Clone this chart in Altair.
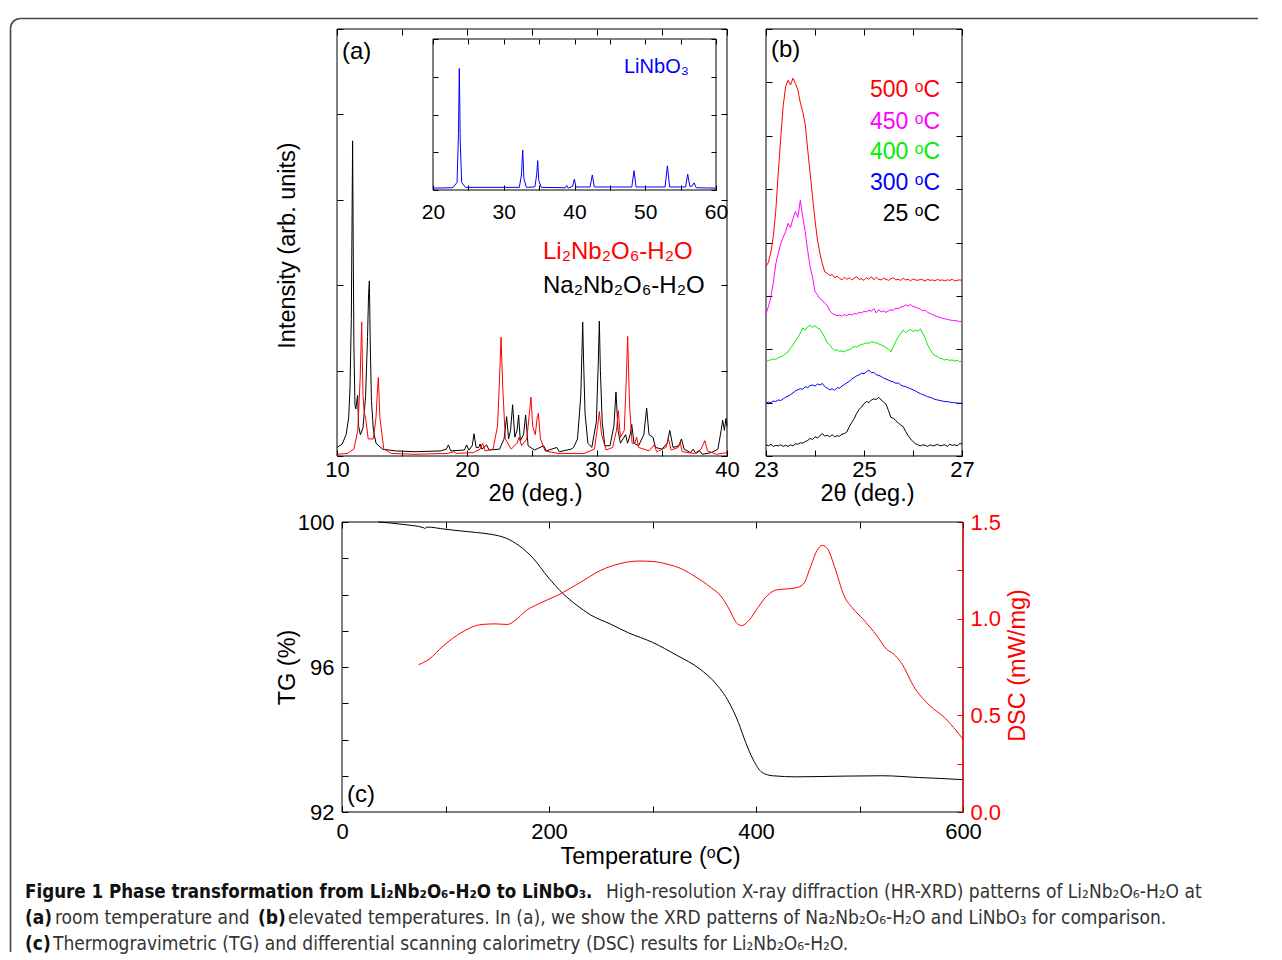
import altair as alt
import pandas as pd

# ---------------- data: panel (a) main XRD patterns (2theta, intensity) ----------------
na_points = [
    (10.0, 0.10), (10.4, 0.14), (10.7, 0.25), (10.9, 0.45), (11.0, 0.80), (11.1, 1.60),
    (11.15, 2.60), (11.2, 3.69), (11.25, 2.40), (11.3, 1.30), (11.38, 0.60), (11.45, 0.55),
    (11.52, 0.64), (11.59, 0.71), (11.66, 0.35), (11.8, 0.25), (12.0, 0.33), (12.2, 0.70),
    (12.35, 1.40), (12.43, 1.90), (12.49, 2.05), (12.56, 1.30), (12.65, 0.65), (12.8, 0.30),
    (13.0, 0.15), (13.5, 0.08), (14.5, 0.06), (16.0, 0.05), (18.0, 0.06), (18.4, 0.08),
    (18.57, 0.13), (18.75, 0.06), (19.8, 0.07), (19.97, 0.13), (20.15, 0.07), (20.4, 0.12),
    (20.54, 0.26), (20.7, 0.10), (20.9, 0.10), (21.0, 0.14), (21.15, 0.08), (21.5, 0.13),
    (21.7, 0.07), (22.5, 0.08), (22.85, 0.20), (23.05, 0.46), (23.2, 0.20), (23.35, 0.30),
    (23.51, 0.60), (23.68, 0.22), (23.85, 0.30), (23.97, 0.48), (24.1, 0.18), (24.35, 0.25),
    (24.51, 0.48), (24.7, 0.12), (25.2, 0.07), (25.9, 0.12), (26.1, 0.06), (26.9, 0.10),
    (27.1, 0.05), (28.0, 0.08), (28.2, 0.10), (28.5, 0.20), (28.75, 0.70), (28.84, 1.20),
    (28.9, 1.57), (28.97, 1.10), (29.08, 0.50), (29.3, 0.15), (29.6, 0.10), (29.95, 0.40),
    (30.1, 1.10), (30.18, 1.58), (30.26, 1.00), (30.4, 0.40), (30.6, 0.12), (31.0, 0.12),
    (31.3, 0.35), (31.46, 0.75), (31.62, 0.30), (31.8, 0.15), (32.0, 0.20), (32.2, 0.25),
    (32.35, 0.15), (32.55, 0.25), (32.67, 0.37), (32.85, 0.15), (33.2, 0.12), (33.6, 0.25),
    (33.82, 0.56), (34.0, 0.25), (34.3, 0.22), (34.5, 0.10), (35.0, 0.08), (35.4, 0.15),
    (35.6, 0.30), (35.85, 0.10), (36.3, 0.12), (36.5, 0.20), (36.7, 0.08), (37.2, 0.04),
    (37.4, 0.08), (37.6, 0.03), (37.9, 0.06), (38.1, 0.02), (38.8, 0.04), (39.3, 0.08),
    (39.55, 0.30), (39.67, 0.42), (39.8, 0.30), (39.92, 0.44), (40.0, 0.35),
]
li_points = [
    (10.0, 0.02), (10.8, 0.03), (11.3, 0.08), (11.6, 0.30), (11.78, 0.90), (11.9, 1.57),
    (12.0, 0.70), (12.1, 0.50), (12.2, 0.45), (12.4, 0.20), (12.8, 0.20), (13.0, 0.45),
    (13.12, 0.80), (13.18, 0.92), (13.3, 0.45), (13.6, 0.08), (14.2, 0.03), (16.0, 0.02),
    (18.5, 0.03), (19.0, 0.05), (19.2, 0.03), (20.5, 0.04), (21.0, 0.08), (21.2, 0.15),
    (21.4, 0.06), (22.0, 0.08), (22.35, 0.35), (22.5, 0.90), (22.62, 1.39), (22.75, 0.80),
    (22.95, 0.20), (23.4, 0.08), (23.85, 0.15), (24.0, 0.22), (24.2, 0.12), (24.6, 0.20),
    (24.8, 0.50), (24.92, 0.69), (25.05, 0.35), (25.25, 0.25), (25.4, 0.45), (25.49, 0.50),
    (25.65, 0.20), (26.0, 0.06), (27.0, 0.03), (29.0, 0.03), (29.8, 0.08), (30.05, 0.35),
    (30.18, 0.52), (30.35, 0.25), (30.7, 0.07), (31.2, 0.10), (31.5, 0.30), (31.64, 0.53),
    (31.8, 0.22), (32.1, 0.30), (32.25, 0.90), (32.36, 1.40), (32.5, 0.60), (32.7, 0.15),
    (32.9, 0.15), (33.05, 0.22), (33.2, 0.10), (34.0, 0.06), (34.4, 0.13), (34.6, 0.05),
    (35.3, 0.10), (35.5, 0.20), (35.7, 0.07), (36.25, 0.10), (36.4, 0.16), (36.55, 0.05),
    (37.5, 0.03), (38.0, 0.08), (38.3, 0.18), (38.5, 0.06), (39.2, 0.02), (40.0, 0.04),
]
# inset: LiNbO3
linbo3_points = [
    (20.0, 0.05), (22.8, 0.06), (23.4, 0.20), (23.6, 1.50), (23.72, 3.22), (23.85, 1.30),
    (24.05, 0.20), (24.6, 0.07), (32.2, 0.07), (32.5, 0.40), (32.68, 1.06), (32.85, 0.30),
    (33.2, 0.07), (34.4, 0.08), (34.65, 0.40), (34.8, 0.78), (34.95, 0.25), (35.3, 0.07),
    (38.7, 0.06), (38.9, 0.12), (39.1, 0.05), (39.75, 0.10), (39.98, 0.29), (40.2, 0.08),
    (42.2, 0.08), (42.52, 0.40), (42.8, 0.08), (48.1, 0.08), (48.41, 0.51), (48.7, 0.08),
    (52.8, 0.08), (53.13, 0.64), (53.45, 0.08), (55.7, 0.08), (56.0, 0.42), (56.3, 0.10),
    (56.6, 0.10), (56.9, 0.19), (57.2, 0.06), (60.0, 0.05),
]

# ---------------- data: panel (b) ----------------
b_theta = [
    23.00, 23.05, 23.10, 23.15, 23.20, 23.25, 23.30, 23.35, 23.40, 23.45,
    23.50, 23.55, 23.60, 23.65, 23.70, 23.75, 23.80, 23.85, 23.90, 23.95,
    24.00, 24.05, 24.10, 24.15, 24.20, 24.25, 24.30, 24.35, 24.40, 24.45,
    24.50, 24.55, 24.60, 24.65, 24.70, 24.75, 24.80, 24.85, 24.90, 24.95,
    25.00, 25.05, 25.10, 25.15, 25.20, 25.25, 25.30, 25.35, 25.40, 25.45,
    25.50, 25.55, 25.60, 25.65, 25.70, 25.75, 25.80, 25.85, 25.90, 25.95,
    26.00, 26.05, 26.10, 26.15, 26.20, 26.25, 26.30, 26.35, 26.40, 26.45,
    26.50, 26.55, 26.60, 26.65, 26.70, 26.75, 26.80, 26.85, 26.90, 26.95,
    27.00,
]
b_500 = [
    3.55, 3.63, 3.82, 4.12, 4.60, 5.30, 5.95, 6.55, 6.92, 7.04,
    6.95, 7.08, 6.98, 6.86, 6.62, 6.45, 6.22, 5.75, 5.30, 4.85,
    4.42, 4.05, 3.80, 3.60, 3.45, 3.42, 3.38, 3.40, 3.34, 3.37,
    3.33, 3.30, 3.35, 3.31, 3.34, 3.30, 3.33, 3.36, 3.31, 3.32,
    3.29, 3.34, 3.31, 3.36, 3.30, 3.35, 3.31, 3.30, 3.33, 3.31,
    3.29, 3.32, 3.34, 3.30, 3.31, 3.29, 3.33, 3.30, 3.31, 3.28,
    3.32, 3.30, 3.29, 3.31, 3.30, 3.28, 3.31, 3.29, 3.30, 3.28,
    3.31, 3.29, 3.30, 3.28, 3.30, 3.29, 3.31, 3.28, 3.29, 3.30,
    3.29,
]
b_450 = [
    2.67, 2.80, 2.98, 3.25, 3.60, 3.80, 3.98, 4.10, 4.20, 4.36,
    4.28, 4.45, 4.58, 4.47, 4.79, 4.48, 4.20, 3.85, 3.55, 3.35,
    3.08, 3.02, 2.95, 2.92, 2.86, 2.82, 2.72, 2.67, 2.65, 2.63,
    2.64, 2.62, 2.65, 2.63, 2.66, 2.64, 2.67, 2.66, 2.69, 2.68,
    2.71, 2.70, 2.73, 2.71, 2.76, 2.68, 2.74, 2.70, 2.72, 2.69,
    2.72, 2.74, 2.73, 2.77, 2.76, 2.79, 2.80, 2.83, 2.81, 2.84,
    2.80, 2.79, 2.77, 2.75, 2.72, 2.73, 2.69, 2.67, 2.65, 2.63,
    2.61, 2.60, 2.58, 2.57, 2.56, 2.55, 2.54, 2.54, 2.53, 2.52,
    2.52,
]
b_400 = [
    1.77, 1.79, 1.80, 1.82, 1.81, 1.84, 1.86, 1.88, 1.92, 1.95,
    2.02, 2.08, 2.15, 2.22, 2.30, 2.40, 2.36, 2.42, 2.45, 2.41,
    2.44, 2.40, 2.38, 2.30, 2.22, 2.12, 2.08, 2.02, 1.98, 1.99,
    1.96, 1.97, 1.95, 1.98, 1.99, 2.02, 2.05, 2.04, 2.07, 2.09,
    2.10, 2.12, 2.11, 2.14, 2.13, 2.12, 2.10, 2.08, 2.06, 2.03,
    2.00, 1.95, 2.05, 2.15, 2.23, 2.30, 2.36, 2.31, 2.35, 2.37,
    2.33, 2.36, 2.34, 2.38, 2.30, 2.20, 2.08, 2.00, 1.92, 1.88,
    1.86, 1.83, 1.82, 1.80, 1.81, 1.79, 1.80, 1.78, 1.79, 1.77,
    1.77,
]
b_300 = [
    0.99, 1.01, 1.00, 1.03, 1.02, 1.05, 1.04, 1.07, 1.10, 1.12,
    1.15, 1.18, 1.22, 1.24, 1.26, 1.25, 1.30, 1.28, 1.32, 1.33,
    1.31, 1.35, 1.33, 1.36, 1.30, 1.27, 1.24, 1.26, 1.23, 1.28,
    1.27, 1.31, 1.34, 1.37, 1.40, 1.44, 1.47, 1.50, 1.52, 1.55,
    1.54, 1.58, 1.61, 1.56, 1.57, 1.52, 1.51, 1.49, 1.46, 1.44,
    1.42, 1.40, 1.39, 1.36, 1.37, 1.33, 1.31, 1.30, 1.28, 1.26,
    1.24, 1.22, 1.19, 1.17, 1.15, 1.13, 1.11, 1.10, 1.08, 1.06,
    1.05, 1.04, 1.03, 1.02, 1.02, 1.01, 1.00, 1.00, 0.99, 0.99,
    0.99,
]
b_25 = [
    0.21, 0.19, 0.22, 0.18, 0.20, 0.19, 0.21, 0.18, 0.20, 0.18,
    0.21, 0.19, 0.23, 0.22, 0.25, 0.24, 0.27, 0.29, 0.33, 0.31,
    0.36, 0.34, 0.38, 0.42, 0.37, 0.39, 0.36, 0.40, 0.36, 0.38,
    0.37, 0.41, 0.42, 0.45, 0.55, 0.63, 0.70, 0.80, 0.87, 0.92,
    0.98, 1.02, 1.00, 1.05, 1.07, 1.06, 1.10, 1.05, 1.01, 0.97,
    0.85, 0.72, 0.71, 0.66, 0.62, 0.58, 0.55, 0.46, 0.38, 0.32,
    0.27, 0.23, 0.21, 0.19, 0.21, 0.20, 0.18, 0.21, 0.19, 0.20,
    0.22, 0.19, 0.20, 0.21, 0.18, 0.22, 0.20, 0.21, 0.19, 0.23,
    0.23,
]

# ---------------- data: panel (c) TG / DSC ----------------
tg_T = [35, 60, 79, 80, 82, 100, 116, 130, 144, 158, 171, 185, 199, 213, 227, 240, 259,
        277, 300, 323, 346, 360, 374, 383, 390, 397, 406, 416, 439, 485, 522, 558, 595, 600]
tg_val = [100.0, 99.93, 99.84, 99.82, 99.86, 99.80, 99.75, 99.71, 99.66, 99.56, 99.35,
          98.99, 98.48, 98.04, 97.70, 97.44, 97.19, 96.94, 96.68, 96.33, 95.94, 95.58,
          95.02, 94.47, 93.92, 93.46, 93.09, 93.00, 92.97, 92.99, 93.00, 92.95, 92.90, 92.89]
dsc_T = [74, 84, 98, 116, 135, 148, 160, 167, 178, 190, 208, 231, 250, 268, 287, 300, 314,
         328, 342, 356, 367, 374, 381, 386, 393, 402, 411, 420, 430, 439, 446, 452, 459, 464,
         469, 476, 485, 494, 503, 517, 526, 533, 540, 554, 568, 582, 600]
dsc_val = [0.762, 0.79, 0.86, 0.93, 0.97, 0.973, 0.97, 0.99, 1.042, 1.077, 1.12, 1.19, 1.25,
           1.284, 1.298, 1.296, 1.282, 1.258, 1.215, 1.163, 1.111, 1.05, 0.98, 0.964, 0.99,
           1.059, 1.12, 1.149, 1.154, 1.16, 1.18, 1.258, 1.353, 1.379, 1.362, 1.267, 1.12,
           1.05, 1.0, 0.91, 0.843, 0.817, 0.774, 0.636, 0.55, 0.489, 0.377]

# ---------------- tick values ----------------
a_xticks = [10, 15, 20, 25, 30, 35, 40]
a_yticks = [0, 1, 2, 3, 4, 5]
i_xticks = [20, 25, 30, 35, 40, 45, 50, 55, 60]
i_yticks = [0, 1, 2, 3, 4]
b_xticks = [23, 24, 25, 26, 27]
b_yticks = [0, 1, 2, 3, 4, 5, 6, 7, 8]
c_xticks = [0, 100, 200, 300, 400, 500, 600]
c_yticks = [92, 93, 94, 95, 96, 97, 98, 99, 100]
dsc_ticks = [0, 0.25, 0.5, 0.75, 1.0, 1.25, 1.5]

# ---------------- layout (pixel ranges inside the chart) ----------------
W, H = 1250, 944
A_X, A_Y = [329, 719], [448, 21]
I_X, I_Y = [425, 708], [182, 31]
B_X, B_Y = [758, 954], [448, 21]
C_X, C_Y = [334, 955], [804, 514]

FONT = "Liberation Sans, Arial, Helvetica, DejaVu Sans"
CAP_FONT = "Liberation Sans Narrow, DejaVu Sans Condensed, Roboto Condensed, Liberation Sans"
one = pd.DataFrame({"d": [0]})


def sc(dom, rng):
    return alt.Scale(domain=dom, range=rng, nice=False, zero=False)


def axis(orient, values, line_pos, ts, labels=False, lexpr=None, pad=4, fs=22,
         fmt=None, title=None, tpos=None, color="black"):
    if orient == "bottom":
        off = line_pos - H
    elif orient in ("top", "left"):
        off = -line_pos
    else:
        off = line_pos - W
    kw = dict(orient=orient, values=values, offset=off, ticks=True, tickSize=ts, tickWidth=1,
              tickColor=color, domain=False, grid=False, labels=labels, labelFont=FONT,
              labelFontSize=fs, labelColor=color, labelPadding=pad, labelFlush=False,
              labelOverlap=False)
    if lexpr:
        kw["labelExpr"] = lexpr
    if fmt:
        kw["format"] = fmt
    if title:
        tx, ty = tpos
        if orient in ("bottom", "top"):
            kw.update(titleX=tx, titleY=ty - line_pos, titleAngle=0)
        else:
            kw.update(titleX=tx - line_pos, titleY=ty, titleAngle=270)
        kw.update(title=title, titleFont=FONT, titleFontSize=23.5, titleFontWeight="normal",
                  titleColor=color, titleAlign="center", titleBaseline="middle", titlePadding=0)
    else:
        kw["title"] = None
    return alt.Axis(**kw)


def line(xs, ys, xdom, xr, ydom, yr, color, xaxis=None, yaxis=None, sw=1.0, interp="linear"):
    df = pd.DataFrame({"x": xs, "y": ys})
    return alt.Chart(df).mark_line(color=color, strokeWidth=sw, interpolate=interp).encode(
        x=alt.X("x:Q", scale=sc(xdom, xr), axis=xaxis),
        y=alt.Y("y:Q", scale=sc(ydom, yr), axis=yaxis),
    )


def frame(xdom, xr, ydom, yr, xaxis=None, yaxis=None):
    df = pd.DataFrame({"x1": [xdom[0]], "x2": [xdom[1]], "y1": [ydom[0]], "y2": [ydom[1]]})
    return alt.Chart(df).mark_rect(fill="transparent", stroke="black", strokeWidth=1).encode(
        x=alt.X("x1:Q", scale=sc(xdom, xr), axis=xaxis), x2="x2:Q",
        y=alt.Y("y1:Q", scale=sc(ydom, yr), axis=yaxis), y2="y2:Q",
    )


def txt(s, x, y, fs, color="black", align="left", weight="normal", font=FONT):
    return alt.Chart(one).mark_text(text=s, font=font, fontSize=fs, color=color, align=align,
                                    baseline="middle", fontWeight=weight).encode(
        x=alt.value(x), y=alt.value(y))


def xy(points):
    return [p[0] for p in points], [p[1] for p in points]


layers = []

# ---------- panel (a) ----------
ADX, ADY = [10, 40], [0, 5]
layers.append(frame(ADX, A_X, ADY, A_Y,
                    xaxis=axis("top", a_xticks, A_Y[1] + 6, 6),
                    yaxis=axis("right", a_yticks, A_X[1] - 6, 6)))
nx, ny = xy(na_points)
lx, ly = xy(li_points)
layers.append(line(nx, ny, ADX, A_X, ADY, A_Y, "black",
                   xaxis=axis("bottom", a_xticks, A_Y[0] - 6, 6, labels=True,
                              lexpr="datum.value % 10 == 0 ? datum.label : ''", pad=3,
                              title="2θ (deg.)", tpos=(527, 485)),
                   yaxis=axis("left", a_yticks, A_X[0] + 6, 6,
                              title="Intensity (arb. units)", tpos=(279, 237))))
layers.append(line(lx, ly, ADX, A_X, ADY, A_Y, "#ff0000"))

# inset
IDX, IDY = [20, 60], [0, 4]
layers.append(frame(IDX, I_X, IDY, I_Y,
                    xaxis=axis("top", i_xticks, I_Y[1] + 5, 5),
                    yaxis=axis("right", i_yticks, I_X[1] - 5, 5)))
bx, by = xy(linbo3_points)
layers.append(line(bx, by, IDX, I_X, IDY, I_Y, "#0000ff",
                   xaxis=axis("bottom", i_xticks, I_Y[0] - 5, 5, labels=True,
                              lexpr="datum.value % 10 == 0 ? datum.label : ''", pad=11, fs=21),
                   yaxis=axis("left", i_yticks, I_X[0] + 5, 5)))

# ---------- panel (b) ----------
BDX, BDY = [23, 27], [0, 8]
layers.append(frame(BDX, B_X, BDY, B_Y,
                    xaxis=axis("top", b_xticks, B_Y[1] + 6, 6),
                    yaxis=axis("right", b_yticks, B_X[1] - 6, 6)))
layers.append(line(b_theta, b_25, BDX, B_X, BDY, B_Y, "black",
                   xaxis=axis("bottom", b_xticks, B_Y[0] - 6, 6, labels=True,
                              lexpr="(datum.value - 23) % 2 == 0 ? datum.label : ''", pad=3,
                              title="2θ (deg.)", tpos=(859, 485)),
                   yaxis=axis("left", b_yticks, B_X[0] + 6, 6)))
layers.append(line(b_theta, b_300, BDX, B_X, BDY, B_Y, "#0000ff"))
layers.append(line(b_theta, b_400, BDX, B_X, BDY, B_Y, "#00ee00"))
layers.append(line(b_theta, b_450, BDX, B_X, BDY, B_Y, "#ff00ff"))
layers.append(line(b_theta, b_500, BDX, B_X, BDY, B_Y, "#ff0000"))

# ---------- panel (c) ----------
CDX, CDY, DDY = [0, 600], [92, 100], [0, 1.5]
layers.append(frame(CDX, C_X, CDY, C_Y, xaxis=axis("top", c_xticks, C_Y[1] + 6, 6)))
layers.append(line(tg_T, tg_val, CDX, C_X, CDY, C_Y, "black", interp="monotone",
                   xaxis=axis("bottom", c_xticks, C_Y[0] - 6, 6, labels=True,
                              lexpr="datum.value % 200 == 0 ? datum.label : ''", pad=9,
                              title="Temperature (ᵒC)", tpos=(642, 848)),
                   yaxis=axis("left", c_yticks, C_X[0] + 6, 6, labels=True,
                              lexpr="(datum.value - 92) % 4 == 0 ? datum.label : ''", pad=8,
                              title="TG (%)", tpos=(279, 659))))
layers.append(line(dsc_T, dsc_val, CDX, C_X, DDY, C_Y, "#ff0000", interp="monotone",
                   yaxis=axis("right", dsc_ticks, C_X[1] - 6, 6, labels=True, fmt=".1f",
                              lexpr="datum.value * 2 % 1 == 0 ? datum.label : ''", pad=7,
                              title="DSC (mW/mg)", tpos=(1009, 657), color="#ff0000")))
edge = pd.DataFrame({"x": [CDX[1]], "y1": [DDY[0]], "y2": [DDY[1]]})
layers.append(alt.Chart(edge).mark_rule(color="#ff0000", strokeWidth=1.2).encode(
    x=alt.X("x:Q", scale=sc(CDX, C_X), axis=None),
    y=alt.Y("y1:Q", scale=sc(DDY, C_Y), axis=None), y2="y2:Q"))

# ---------- annotations ----------
layers += [
    txt("(a)", 334, 44, 24),
    txt("(b)", 763, 42, 24),
    txt("(c)", 339, 787, 24),
    txt("LiNbO₃", 616, 59, 20, color="#0000ff"),
    txt("Li₂Nb₂O₆-H₂O", 535, 244, 24, color="#ff0000"),
    txt("Na₂Nb₂O₆-H₂O", 535, 278, 24),
    txt("500 ᵒC", 932, 82, 23, color="#ff0000", align="right"),
    txt("450 ᵒC", 932, 113.5, 23, color="#ff00ff", align="right"),
    txt("400 ᵒC", 932, 144, 23, color="#00ee00", align="right"),
    txt("300 ᵒC", 932, 175, 23, color="#0000ff", align="right"),
    txt("25 ᵒC", 932, 206, 23, align="right"),
]

# ---------- caption ----------
CFS = 19
layers += [
    txt("Figure 1 Phase transformation from Li₂Nb₂O₆-H₂O to LiNbO₃.", 17, 884, 18.6,
        color="#111", weight="bold", font=CAP_FONT),
    txt("High-resolution X-ray diffraction (HR-XRD) patterns of Li₂Nb₂O₆-H₂O at", 598, 884,
        CFS, color="#333", font=CAP_FONT),
    txt("(a)", 17, 910, CFS, color="#111", weight="bold", font=CAP_FONT),
    txt("room temperature and", 47, 910, CFS, color="#333", font=CAP_FONT),
    txt("(b)", 250, 910, CFS, color="#111", weight="bold", font=CAP_FONT),
    txt("elevated temperatures. In (a), we show the XRD patterns of Na₂Nb₂O₆-H₂O and LiNbO₃ for comparison.",
        280, 910, CFS, color="#333", font=CAP_FONT),
    txt("(c)", 17, 936, CFS, color="#111", weight="bold", font=CAP_FONT),
    txt("Thermogravimetric (TG) and differential scanning calorimetry (DSC) results for Li₂Nb₂O₆-H₂O.",
        45, 936, CFS, color="#333", font=CAP_FONT),
]

# ---------- rounded border (top-left corner of the figure box) ----------
BORDER = "#444444"
layers += [
    alt.Chart(one).mark_rule(color=BORDER, strokeWidth=1.6).encode(
        x=alt.value(2.5), y=alt.value(20.5), y2=alt.value(H)),
    alt.Chart(one).mark_rule(color=BORDER, strokeWidth=1.6).encode(
        x=alt.value(12.5), x2=alt.value(W), y=alt.value(10.5)),
    alt.Chart(one).mark_arc(radius=10.8, radius2=9.2, color=BORDER).encode(
        x=alt.value(12.5), y=alt.value(20.5), theta=alt.value(4.712389),
        theta2=alt.value(6.283185)),
]

chart = (
    alt.layer(*layers)
    .resolve_scale(x="independent", y="independent")
    .resolve_axis(x="independent", y="independent")
    .properties(width=W, height=H, padding=0, background="white")
    .configure_view(stroke="transparent")
)

chart.save("out.html", embed_options={"renderer": "svg", "actions": False})
